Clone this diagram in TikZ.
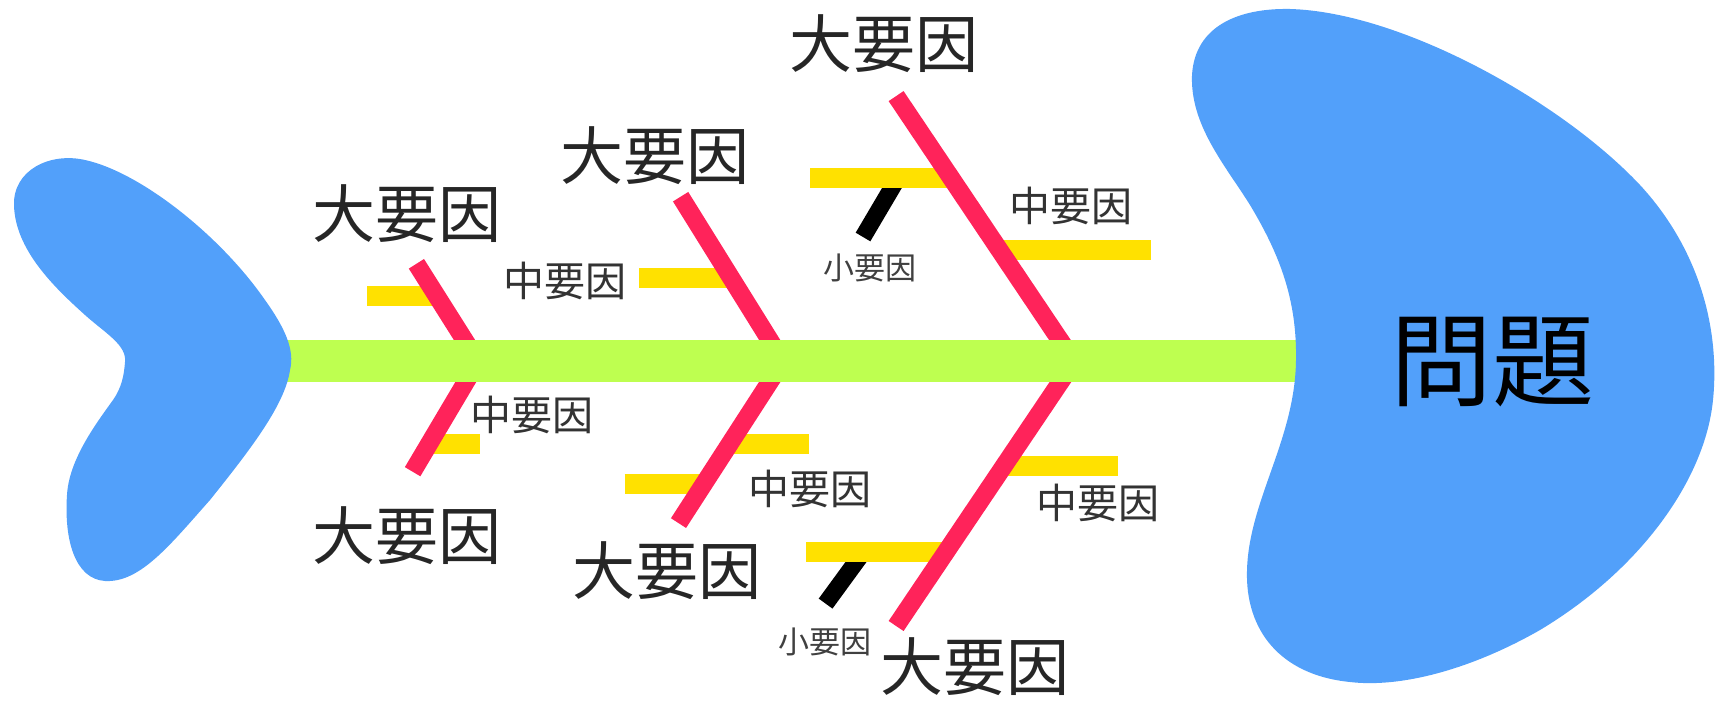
\documentclass[tikz,border=0pt]{standalone}
\usepackage{fontspec}
\newfontfamily\cjk{Noto Sans CJK JP}
\definecolor{fishblue}{RGB}{82,160,250}
\definecolor{fishgreen}{RGB}{190,255,80}
\definecolor{fishred}{RGB}{255,35,90}
\definecolor{fishyellow}{RGB}{255,225,0}
\tikzset{
  bigbone/.style={draw=fishred,line width=18pt},
  midbone/.style={draw=fishyellow,line width=20pt},
  smallbone/.style={draw=black,line width=17pt},
  spine/.style={draw=fishgreen,line width=42pt},
  blob/.style={fill=fishblue},
  biglabel/.style={inner sep=0pt,font=\cjk\fontsize{63}{70}\selectfont,text=black!85},
  midlabel/.style={inner sep=0pt,font=\cjk\fontsize{41}{46}\selectfont,text=black!80},
  smalllabel/.style={inner sep=0pt,font=\cjk\fontsize{31}{35}\selectfont,text=black!75},
  headlabel/.style={inner sep=0pt,font=\cjk\fontsize{102}{110}\selectfont}
}
\begin{document}
\begin{tikzpicture}[x=1pt,y=-1pt]
\useasboundingbox (0,0) rectangle (1715,701);
% junctions and ends
\coordinate (s0) at (283,361.4);
\coordinate (s1) at (1298,361.4);
\coordinate (j1) at (478,361.4);
\coordinate (j2) at (783,361.4);
\coordinate (j3) at (1074.3,361.4);
\coordinate (u1) at (416.4,263.8);
\coordinate (d1) at (412.6,471.7);
\coordinate (u2) at (680.6,196.7);
\coordinate (d2) at (678.5,523.1);
\coordinate (u3) at (896.1,96.1);
\coordinate (d3) at (896.1,626);
% small bones
\coordinate (k1a) at (898,177.7);
\coordinate (k1b) at (863,237);
\coordinate (k2a) at (863,552.4);
\coordinate (k2b) at (825.6,603.6);
\draw[smallbone] (k1a) -- (k1b);
\draw[smallbone] (k2a) -- (k2b);
% middle bones
\coordinate (y1a) at (367,296.2);   \coordinate (y1b) at (437,296.2);
\coordinate (y2a) at (429,443.7);   \coordinate (y2b) at (480,443.7);
\coordinate (y3a) at (639,278.3);   \coordinate (y3b) at (731,278.3);
\coordinate (y4a) at (730,443.7);   \coordinate (y4b) at (809,443.7);
\coordinate (y5a) at (624.6,484);   \coordinate (y5b) at (704,484);
\coordinate (y6a) at (810,177.7);   \coordinate (y6b) at (951,177.7);
\coordinate (y7a) at (1000,250.4);  \coordinate (y7b) at (1151,250.4);
\coordinate (y8a) at (1004,466);    \coordinate (y8b) at (1118,466);
\coordinate (y9a) at (806,552.4);   \coordinate (y9b) at (946,552.4);
\foreach \i in {1,...,9} \draw[midbone] (y\i a) -- (y\i b);
% big bones
\draw[bigbone] (u1) -- (j1) -- (d1);
\draw[bigbone] (u2) -- (j2) -- (d2);
\draw[bigbone] (u3) -- (j3) -- (d3);
% spine
\draw[spine] (s0) -- (s1);
% tail
\fill[blob] (125,362)
  .. controls (127,345) and (105,333) .. (85,315)
  .. controls (55,288) and (15,250) .. (14,205)
  .. controls (13,170) and (50,152) .. (85,160)
  .. controls (140,172) and (220,235) .. (265,300)
  .. controls (285,328) and (295,350) .. (290,370)
  .. controls (285,405) and (250,450) .. (210,500)
  .. controls (170,545) and (140,583) .. (105,581)
  .. controls (75,579) and (64,540) .. (67,495)
  .. controls (69,460) and (95,425) .. (113,400)
  .. controls (122,387) and (124,375) .. (125,362) -- cycle;
% head
\fill[blob] (1296,360)
  .. controls (1297,300) and (1280,255) .. (1250,205)
  .. controls (1225,165) and (1190,125) .. (1192,75)
  .. controls (1195,25) and (1240,8) .. (1290,9)
  .. controls (1400,12) and (1560,100) .. (1640,185)
  .. controls (1700,250) and (1720,330) .. (1713,400)
  .. controls (1705,480) and (1640,570) .. (1540,630)
  .. controls (1470,670) and (1400,688) .. (1350,682)
  .. controls (1280,675) and (1245,630) .. (1247,570)
  .. controls (1249,500) and (1295,440) .. (1296,360) -- cycle;
% labels
\node[headlabel] (head) at (1492,362) {問題};
\node[biglabel] (b1) at (406.6,213.5) {大要因};
\node[biglabel] (b2) at (654.7,155.4) {大要因};
\node[biglabel] (b3) at (883.7,43.6) {大要因};
\node[biglabel] (b4) at (406.6,535.4) {大要因};
\node[biglabel] (b5) at (667,571) {大要因};
\node[biglabel] (b6) at (975,667) {大要因};
\node[midlabel] (m1) at (564.5,280.5) {中要因};
\node[midlabel] (m2) at (532,414.7) {中要因};
\node[midlabel] (m3) at (810,488.5) {中要因};
\node[midlabel] (m4) at (1071,205.7) {中要因};
\node[midlabel] (m5) at (1098,503) {中要因};
\node[smalllabel] (k1) at (870,268.3) {小要因};
\node[smalllabel] (k2) at (824.6,641.6) {小要因};
\end{tikzpicture}
\end{document}
